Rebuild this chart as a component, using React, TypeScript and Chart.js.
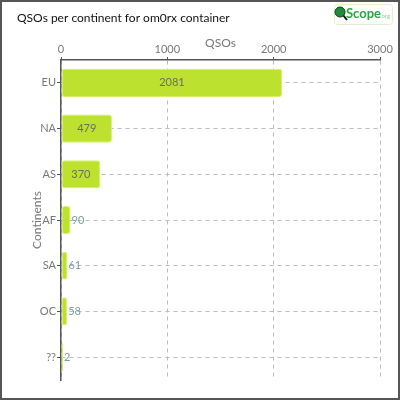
import React, { useEffect, useRef } from "react";
import { Chart, registerables } from "chart.js";

Chart.register(...registerables);

const categories = ["EU", "NA", "AS", "AF", "SA", "OC", "??"];
const qsos = [2081, 479, 370, 90, 61, 58, 2];
const xTicks = [0, 1000, 2000, 3000];
const titleText = "QSOs per continent for om0rx container";
const xTitle = "QSOs";
const yTitle = "Continents";

const FONT = "Lato, 'DejaVu Sans', sans-serif";

const framePlugin = {
  id: "frame",
  afterDraw(chart: any) {
    const { ctx, width, height } = chart;
    ctx.save();
    ctx.strokeStyle = "#555";
    ctx.lineWidth = 2;
    ctx.strokeRect(1, 1, width - 2, height - 2);
    // title
    ctx.fillStyle = "#111";
    ctx.font = `12px ${FONT}`;
    ctx.textBaseline = "alphabetic";
    ctx.textAlign = "left";
    ctx.fillText(titleText, 17, 22);
    // logo
    const lx = 334, ly = 4, lw = 58, lh = 20;
    ctx.strokeStyle = "#e6efcc";
    ctx.lineWidth = 1;
    ctx.beginPath();
    ctx.roundRect(lx + 0.5, ly + 0.5, lw, lh, 3);
    ctx.stroke();
    ctx.strokeStyle = "#111";
    ctx.lineWidth = 2;
    ctx.beginPath();
    ctx.moveTo(343, 15);
    ctx.lineTo(347, 20);
    ctx.stroke();
    ctx.fillStyle = "#1f8a3a";
    ctx.beginPath();
    ctx.arc(340, 12, 5, 0, Math.PI * 2);
    ctx.fill();
    ctx.strokeStyle = "#0d3d1a";
    ctx.lineWidth = 1;
    ctx.stroke();
    ctx.fillStyle = "#27a53f";
    ctx.font = `bold 13px ${FONT}`;
    ctx.fillText("Scope", 346, 18);
    ctx.fillStyle = "#8fd08f";
    ctx.font = `6px ${FONT}`;
    ctx.fillText(".org", 380, 18);
    ctx.restore();
  },
};

const labelPlugin = {
  id: "barLabels",
  afterDatasetsDraw(chart: any) {
    const { ctx } = chart;
    const meta = chart.getDatasetMeta(0);
    ctx.save();
    ctx.font = `11px ${FONT}`;
    ctx.textBaseline = "middle";
    meta.data.forEach((bar: any, i: number) => {
      const txt = String(qsos[i]);
      const w = ctx.measureText(txt).width;
      const barW = bar.x - bar.base;
      if (w + 10 < barW) {
        ctx.fillStyle = "#6b6f60";
        ctx.textAlign = "center";
        ctx.fillText(txt, (bar.x + bar.base) / 2, bar.y);
      } else {
        ctx.fillStyle = "#7f9ca4";
        ctx.textAlign = "left";
        ctx.fillText(txt, bar.x + 1, bar.y);
      }
    });
    ctx.restore();
  },
};

export default function App() {
  const ref = useRef<HTMLCanvasElement>(null);
  useEffect(() => {
    document.body.style.margin = "0";
    const chart = new Chart(ref.current!, {
      type: "bar",
      data: {
        labels: categories,
        datasets: [
          {
            data: qsos,
            backgroundColor: "#bde12f",
            borderColor: "#d3ef6c",
            borderWidth: 1,
            borderRadius: 3,
            borderSkipped: false,
            minBarLength: 2,
            categoryPercentage: 0.8,
            barPercentage: 0.77,
          },
        ],
      },
      options: {
        indexAxis: "y",
        animation: false,
        responsive: false,
        devicePixelRatio: 1,
        layout: { padding: { top: 30, left: 0, right: 20, bottom: 20 } },
        plugins: { legend: { display: false }, tooltip: { enabled: false }, title: { display: false } },
        scales: {
          x: {
            position: "top",
            min: 0,
            max: 3000,
            afterBuildTicks: (s: any) => {
              s.ticks = xTicks.map((v) => ({ value: v }));
            },
            afterFit: (s: any) => {
              s.height = 30;
            },
            title: { display: true, text: xTitle, color: "#777", font: { family: FONT, size: 12 }, padding: { top: 6, bottom: 0 } },
            ticks: {
              color: "#777",
              font: { family: FONT, size: 11 },
              padding: 1,
              maxRotation: 0,
              callback: (v: any) => String(v),
            },
            grid: { color: "#bbb", tickColor: "#555", tickLength: 3, tickBorderDash: [] },
            border: { display: true, color: "#555", width: 1.5, dash: [4, 4] },
          },
          y: {
            afterFit: (s: any) => {
              s.width = 61;
            },
            title: { display: true, text: yTitle, color: "#777", font: { family: FONT, size: 12 }, padding: { top: 30, bottom: 0 } },
            ticks: { color: "#777", font: { family: FONT, size: 11 }, padding: 1 },
            grid: { color: "#bbb", offset: false, tickColor: "#555", tickLength: 4, tickBorderDash: [] },
            border: { display: true, color: "#555", width: 1.5, dash: [4, 4] },
          },
        },
      },
      plugins: [framePlugin, labelPlugin],
    } as any);
    return () => chart.destroy();
  }, []);
  return <canvas ref={ref} width={400} height={400} style={{ display: "block" }} />;
}
